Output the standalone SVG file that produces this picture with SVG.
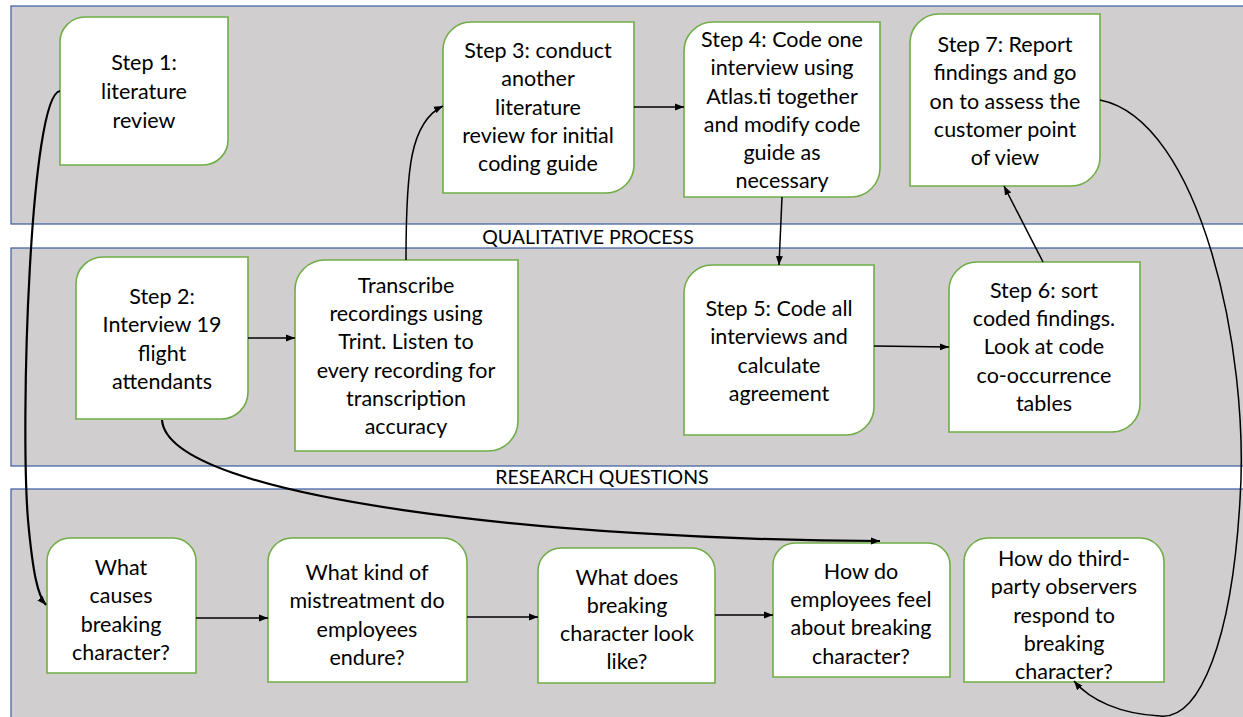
<svg xmlns="http://www.w3.org/2000/svg" width="1243" height="717" viewBox="0 0 1243 717">
  <style>
    .band { fill: #D0CECE; stroke: #3A5BA0; stroke-width: 1.2; }
    .node { fill: #FFFFFF; stroke: #70AD47; stroke-width: 1.6; }
    .lbl { font-family: Lato, "Liberation Sans", sans-serif; font-size: 21.5px; fill: #000; text-anchor: middle; }
    .strip { font-family: Lato, "Liberation Sans", sans-serif; font-size: 19.5px; fill: #000; text-anchor: middle; }
    .edge { fill: none; stroke: #000; stroke-width: 1.5; }
    .edge-b { fill: none; stroke: #000; stroke-width: 2.2; }
  </style>
  <defs>
    <marker id="arrow" markerUnits="userSpaceOnUse" markerWidth="10" markerHeight="8" refX="9" refY="4" orient="auto">
      <path d="M0,0.5 L9,4 L0,7.5 Z" fill="#000"/>
    </marker>
  </defs>

  <rect width="1243" height="717" fill="#FFFFFF"/>

  <!-- swimlane bands -->
  <g id="lanes">
    <rect class="band" x="11" y="6" width="1250" height="218"/>
    <rect class="band" x="11" y="248" width="1250" height="218"/>
    <rect class="band" x="11" y="489" width="1250" height="240"/>
    <text class="strip" x="588" y="244">QUALITATIVE PROCESS</text>
    <text class="strip" x="602" y="484">RESEARCH QUESTIONS</text>
  </g>

  <!-- process steps: rounded top-left and bottom-right corners -->
  <g id="step1">
    <path class="node" d="M85,17 H228 V140 A25,25 0 0 1 203,165 H60 V42 A25,25 0 0 1 85,17 Z"/>
    <text class="lbl"><tspan x="144" y="70">Step 1:</tspan><tspan x="144" y="99">literature</tspan><tspan x="144" y="128">review</tspan></text>
  </g>
  <g id="step3">
    <path class="node" d="M471,22 H634 V165 A28,28 0 0 1 606,193 H443 V50 A28,28 0 0 1 471,22 Z"/>
    <text class="lbl"><tspan x="538" y="58">Step 3: conduct</tspan><tspan x="538" y="86">another</tspan><tspan x="538" y="115">literature</tspan><tspan x="538" y="143">review for initial</tspan><tspan x="538" y="171">coding guide</tspan></text>
  </g>
  <g id="step4">
    <path class="node" d="M713,22 H880 V168 A29,29 0 0 1 851,197 H684 V51 A29,29 0 0 1 713,22 Z"/>
    <text class="lbl"><tspan x="782" y="47">Step 4: Code one</tspan><tspan x="782" y="75">interview using</tspan><tspan x="782" y="104">Atlas.ti together</tspan><tspan x="782" y="132">and modify code</tspan><tspan x="782" y="160">guide as</tspan><tspan x="782" y="188">necessary</tspan></text>
  </g>
  <g id="step7">
    <path class="node" d="M939,14 H1100 V157 A29,29 0 0 1 1071,186 H910 V43 A29,29 0 0 1 939,14 Z"/>
    <text class="lbl"><tspan x="1005" y="52">Step 7: Report</tspan><tspan x="1005" y="80">findings and go</tspan><tspan x="1005" y="109">on to assess the</tspan><tspan x="1005" y="137">customer point</tspan><tspan x="1005" y="165">of view</tspan></text>
  </g>
  <g id="step2">
    <path class="node" d="M103,257 H248 V392 A27,27 0 0 1 221,419 H76 V284 A27,27 0 0 1 103,257 Z"/>
    <text class="lbl"><tspan x="162" y="304">Step 2:</tspan><tspan x="162" y="332">Interview 19</tspan><tspan x="162" y="361">flight</tspan><tspan x="162" y="389">attendants</tspan></text>
  </g>
  <g id="transcribe">
    <path class="node" d="M325,260 H518 V421 A30,30 0 0 1 488,451 H295 V290 A30,30 0 0 1 325,260 Z"/>
    <text class="lbl"><tspan x="406" y="293">Transcribe</tspan><tspan x="406" y="321">recordings using</tspan><tspan x="406" y="349">Trint. Listen to</tspan><tspan x="406" y="378">every recording for</tspan><tspan x="406" y="406">transcription</tspan><tspan x="406" y="434">accuracy</tspan></text>
  </g>
  <g id="step5">
    <path class="node" d="M712,265 H874 V407 A28,28 0 0 1 846,435 H684 V293 A28,28 0 0 1 712,265 Z"/>
    <text class="lbl"><tspan x="779" y="316">Step 5: Code all</tspan><tspan x="779" y="344">interviews and</tspan><tspan x="779" y="373">calculate</tspan><tspan x="779" y="401">agreement</tspan></text>
  </g>
  <g id="step6">
    <path class="node" d="M977,262 H1140 V404 A28,28 0 0 1 1112,432 H949 V290 A28,28 0 0 1 977,262 Z"/>
    <text class="lbl"><tspan x="1044" y="298">Step 6: sort</tspan><tspan x="1044" y="326">coded findings.</tspan><tspan x="1044" y="354">Look at code</tspan><tspan x="1044" y="383">co-occurrence</tspan><tspan x="1044" y="411">tables</tspan></text>
  </g>

  <!-- research questions: rounded top corners -->
  <g id="rq1">
    <path class="node" d="M47,673 V561 A23,23 0 0 1 70,538 H173 A23,23 0 0 1 196,561 V673 Z"/>
    <text class="lbl"><tspan x="121" y="575">What</tspan><tspan x="121" y="603">causes</tspan><tspan x="121" y="632">breaking</tspan><tspan x="121" y="660">character?</tspan></text>
  </g>
  <g id="rq2">
    <path class="node" d="M268,682 V562 A24,24 0 0 1 292,538 H443 A24,24 0 0 1 467,562 V682 Z"/>
    <text class="lbl"><tspan x="367" y="580">What kind of</tspan><tspan x="367" y="608">mistreatment do</tspan><tspan x="367" y="637">employees</tspan><tspan x="367" y="665">endure?</tspan></text>
  </g>
  <g id="rq3">
    <path class="node" d="M538,683 V571 A23,23 0 0 1 561,548 H692 A23,23 0 0 1 715,571 V683 Z"/>
    <text class="lbl"><tspan x="627" y="585">What does</tspan><tspan x="627" y="613">breaking</tspan><tspan x="627" y="641">character look</tspan><tspan x="627" y="669">like?</tspan></text>
  </g>
  <g id="rq4">
    <path class="node" d="M773,677 V565 A22,22 0 0 1 795,543 H928 A22,22 0 0 1 950,565 V677 Z"/>
    <text class="lbl"><tspan x="861" y="579">How do</tspan><tspan x="861" y="607">employees feel</tspan><tspan x="861" y="635">about breaking</tspan><tspan x="861" y="664">character?</tspan></text>
  </g>
  <g id="rq5">
    <path class="node" d="M964,682 V562 A24,24 0 0 1 988,538 H1140 A24,24 0 0 1 1164,562 V682 Z"/>
    <text class="lbl"><tspan x="1064" y="566">How do third-</tspan><tspan x="1064" y="594">party observers</tspan><tspan x="1064" y="623">respond to</tspan><tspan x="1064" y="651">breaking</tspan><tspan x="1064" y="679">character?</tspan></text>
  </g>

  <!-- connectors -->
  <g id="connectors">
    <path class="edge-b" d="M60,91 C30,95 20,420 28,520 C33,575 38,596 46,605" marker-end="url(#arrow)"/>
    <path class="edge" d="M248,338 H295" marker-end="url(#arrow)"/>
    <path class="edge" d="M406,260 C406,170 410,122 443,106" marker-end="url(#arrow)"/>
    <path class="edge" d="M634,107 H684" marker-end="url(#arrow)"/>
    <path class="edge" d="M782,197 L779,265" marker-end="url(#arrow)"/>
    <path class="edge" d="M874,346 L949,347" marker-end="url(#arrow)"/>
    <path class="edge" d="M1043,262 L1004,186" marker-end="url(#arrow)"/>
    <path class="edge" d="M1100,100 C1200,120 1250,350 1240,500 C1232,640 1200,720 1160,716 C1120,714 1090,700 1074,681" marker-end="url(#arrow)"/>
    <path class="edge-b" d="M162,420 C168,500 560,540 880,541" marker-end="url(#arrow)"/>
    <path class="edge" d="M196,618 H268" marker-end="url(#arrow)"/>
    <path class="edge" d="M467,617 H538" marker-end="url(#arrow)"/>
    <path class="edge" d="M715,615 H773" marker-end="url(#arrow)"/>
  </g>
</svg>
